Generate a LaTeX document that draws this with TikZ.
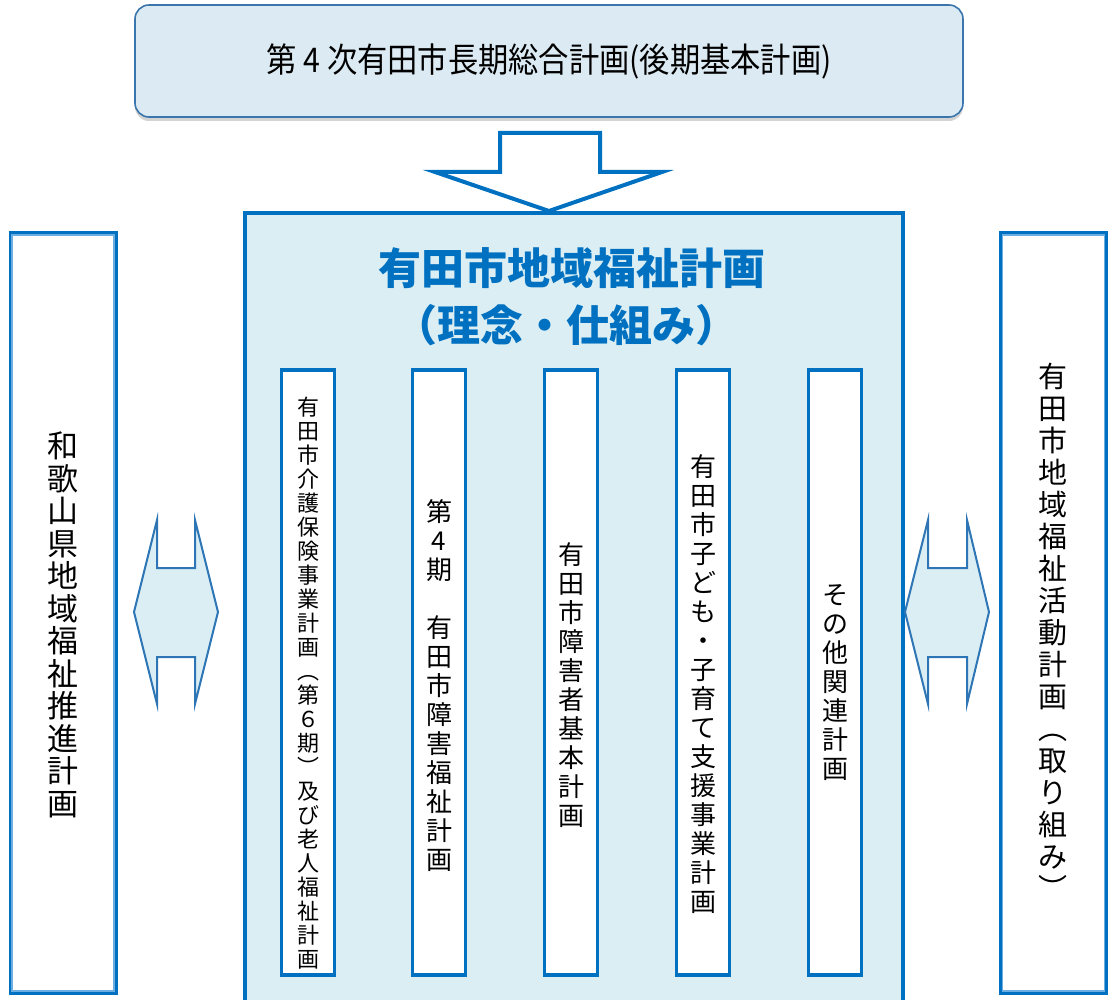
\documentclass[tikz,border=0pt]{standalone}
\usepackage{fontspec}
\setmainfont{Noto Sans CJK JP}
\usetikzlibrary{shadows}
\definecolor{mainblue}{HTML}{0070C0}
\definecolor{lightfill}{HTML}{DAEEF3}
\definecolor{topfill}{HTML}{DCEBF3}
\definecolor{topline}{HTML}{3A75AC}
\definecolor{arrowline}{HTML}{2E75B6}
\definecolor{innerline}{HTML}{6AAEE2}
\makeatletter
\def\vstackend{vstack-end-marker}
\newcommand\vstack[1]{\vstack@a#1\vstackend}
\def\vstack@a#1{#1\vstack@b}
\def\vstack@b#1{\ifx#1\vstackend\else\\#1\expandafter\vstack@b\fi}
\makeatother
\tikzset{
  topbox/.style={draw=topline, line width=1.6pt, fill=topfill, rounded corners=14pt,
    minimum width=828pt, minimum height=112pt,
    drop shadow={opacity=0.35, shadow xshift=0pt, shadow yshift=-4pt}},
  colbox/.style={draw=mainblue, line width=3.5pt, fill=white, minimum width=53pt, minimum height=605pt, inner sep=0pt},
  coltext/.style={inner sep=0pt, align=center, font=\fontsize{26}{29}\selectfont},
  coltextsmall/.style={inner sep=0pt, align=center, font=\fontsize{22}{24}\selectfont},
  sidebox/.style={draw=mainblue, line width=3pt, fill=white, minimum width=106pt, minimum height=760pt, inner sep=0pt},
  sideinner/.style={draw=innerline, line width=1.5pt},
  sidetext/.style={inner sep=0pt, align=center},
  titletext/.style={inner sep=0pt, text=mainblue, font=\fontsize{43}{46}\selectfont\bfseries},
  dblarrow/.style={draw=arrowline, line width=2pt, fill=lightfill, line join=miter},
  downarrow/.style={draw=mainblue, line width=4pt, fill=white, line join=miter}
}
\begin{document}
\begin{tikzpicture}[x=1pt,y=-1pt]
\useasboundingbox (0,0) rectangle (1108,1000);
% top box
\node[topbox] (top) at (549,61) {\scalebox{0.89}[1]{\fontsize{34}{36}\selectfont 第 4 次有田市長期総合計画(後期基本計画)}};
% main box
\node[draw=mainblue, line width=4pt, fill=lightfill, minimum width=658pt, minimum height=793pt, inner sep=0pt, anchor=north west] (main) at (243,211) {};
% down arrow
\draw[downarrow] (500,133) -- (600,133) -- (600,172) -- (662,172) -- (main.north -| 549,0) -- (435,172) -- (500,172) -- cycle;
% title
\node[titletext] (title1) at (572,268) {有田市地域福祉計画};
\node[titletext] (title2) at (566,325) {（理念・仕組み）};
% columns
\foreach \n/\x in {1/308,2/439,3/571,4/703,5/835}{
  \node[colbox] (col\n) at (\x,672.5) {};
}
\node[coltextsmall] (col1t) at (308,683) {\vstack{有田市介護保険事業計画︵第６期︶及び老人福祉計画}};
\node[coltext] (col2t) at (439,686) {\vstack{第4期　有田市障害福祉計画}};
\node[coltext] (col3t) at (571,685) {\vstack{有田市障害者基本計画}};
\node[coltext] (col4t) at (703,684) {\vstack{有田市子ども・子育て支援事業計画}};
\node[coltext] (col5t) at (835,683) {\vstack{その他関連計画}};
% side boxes
\node[sidebox] (left) at (63,613) {};
\draw[sideinner] ([shift={(3.5pt,-3.5pt)}]left.north west) rectangle ([shift={(-3.5pt,3.5pt)}]left.south east);
\node[sidetext, font=\fontsize{31}{32.5}\selectfont] (leftt) at (63,625) {\vstack{和歌山県地域福祉推進計画}};
\node[sidebox] (right) at (1053.5,613) {};
\draw[sideinner] ([shift={(3.5pt,-3.5pt)}]right.north west) rectangle ([shift={(-3.5pt,3.5pt)}]right.south east);
\node[sidetext, font=\fontsize{29}{32}\selectfont] (rightt) at (1053,631) {\vstack{有田市地域福祉活動計画︵取り組み︶}};
% double arrows
\draw[dblarrow] (157,520) -- (157,568) -- (195,568) -- (195,520) -- (218,612) -- (195,704) -- (195,657) -- (157,657) -- (157,704) -- (134,612) -- cycle;
\draw[dblarrow] (928,520) -- (928,568) -- (967,568) -- (967,520) -- (989,612) -- (967,704) -- (967,657) -- (928,657) -- (928,704) -- (905,612) -- cycle;
\end{tikzpicture}
\end{document}
